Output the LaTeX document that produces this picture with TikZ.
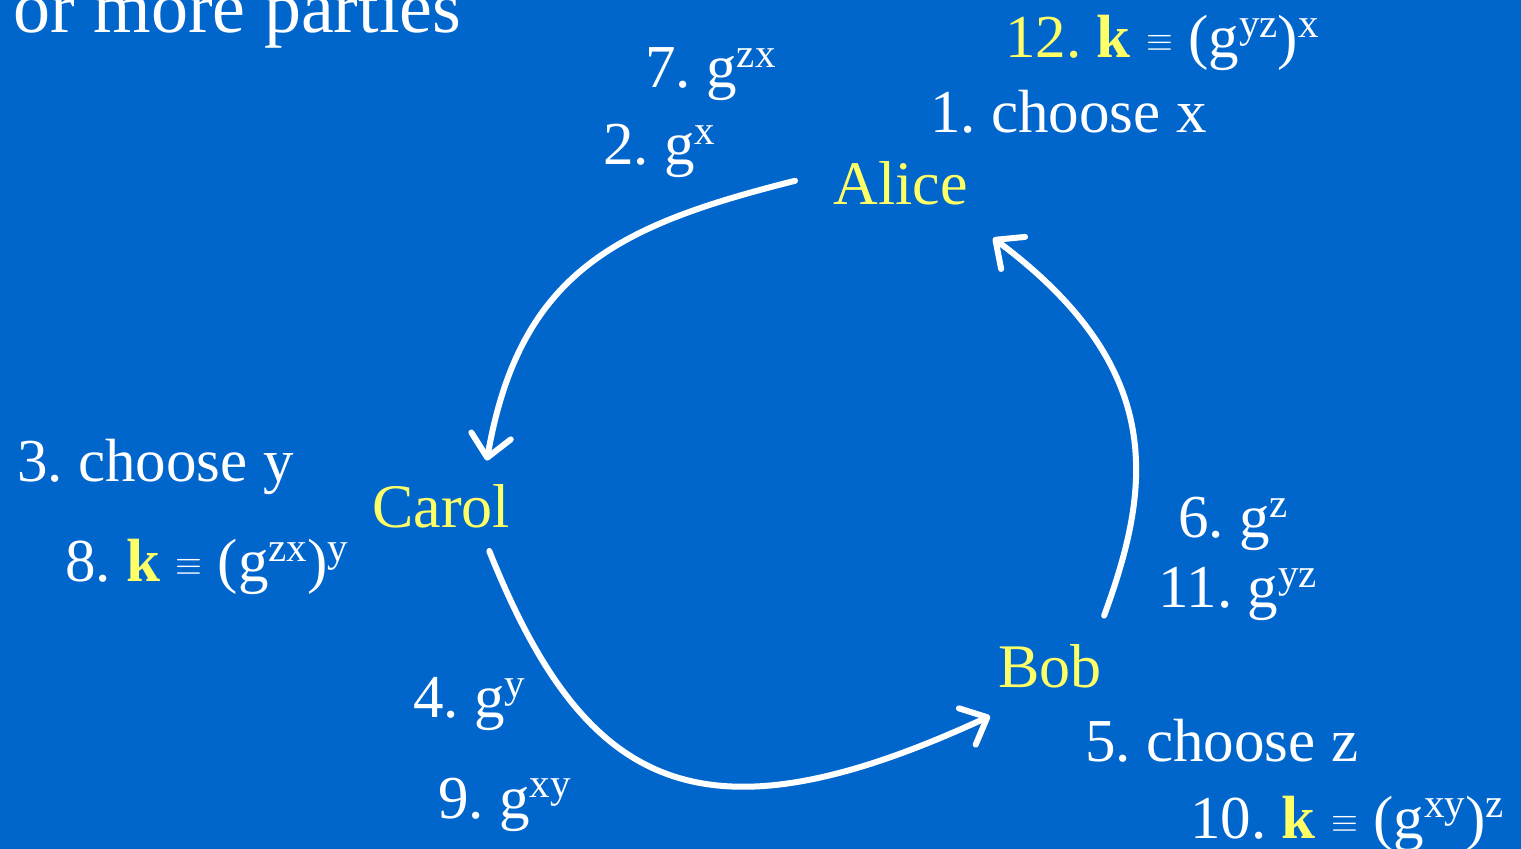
\documentclass[tikz,border=0pt]{standalone}
\usepackage{fontspec}
\setmainfont{Liberation Serif}
\usetikzlibrary{arrows.meta}
\frenchspacing
\definecolor{bgblue}{RGB}{0,102,204}
\definecolor{yel}{RGB}{255,255,102}
\newcommand\upx[1]{\raisebox{0.33em}{\fontsize{20.5}{20.5}\selectfont #1}}
\newcommand\eqv{{\fontsize{18}{18}\selectfont\raisebox{3pt}{$\equiv$}}}
\newcommand\kk{{\color{yel}\textbf{k}}}
\tikzset{
  lbl/.style={anchor=base west, inner sep=0pt, text=white, font=\fontsize{30.5}{36}\selectfont},
  who/.style={anchor=base west, inner sep=0pt, text=yel, font=\fontsize{31}{36}\selectfont},
  flow/.style={draw=white, line width=3pt, line cap=round,
    -{Straight Barb[length=11pt, width=20pt, line width=3pt, round]}}
}
\begin{document}
\begin{tikzpicture}[x=0.5pt, y=-0.5pt]
\fill[bgblue] (0,0) rectangle (1521,849);
\useasboundingbox (0,0) rectangle (1521,849);
\begin{scope}
\clip (0,0) rectangle (1521,849);
\node[lbl, font=\fontsize{37}{40}\selectfont] (title) at (13,33) {or more parties};
\end{scope}
\node[lbl] (k12) at (1005,58) {{\color{yel}12.} \kk{} \eqv{} (g\upx{yz})\upx{x}};
\node[lbl] (s7) at (645,88) {7. g\upx{zx}};
\node[lbl] (s1) at (930,133) {1. choose x};
\node[lbl] (s2) at (603,165) {2. g\upx{x}};
\node[who] (Alice) at (833,205) {Alice};
\node[lbl] (s3) at (17,482) {3. choose y};
\node[who] (Carol) at (372,528) {Carol};
\node[lbl] (k8) at (65,582) {8. \kk{} \eqv{} (g\upx{zx})\upx{y}};
\node[lbl] (s6) at (1178,538) {6. g\upx{z}};
\node[lbl] (s11) at (1158,608) {11. g\upx{yz}};
\node[who] (Bob) at (998,688) {Bob};
\node[lbl] (s4) at (413,718) {4. g\upx{y}};
\node[lbl] (s5) at (1085,762) {5. choose z};
\node[lbl] (s9) at (438,818) {9. g\upx{xy}};
\node[lbl] (k10) at (1190,838) {10. \kk{} \eqv{} (g\upx{xy})\upx{z}};

\draw[flow] ([xshift=-19pt,yshift=1.5pt]Alice.west)
  .. controls (620,225) and (520,270) .. ([xshift=22.75pt,yshift=12pt]Carol.north);
\draw[flow] ([xshift=24pt,yshift=-11pt]Carol.south)
  .. controls (585,790) and (700,850) .. ([xshift=-4pt,yshift=-13.5pt]Bob.south west);
\draw[flow] ([xshift=1pt,yshift=14.5pt]Bob.north east)
  .. controls (1150,490) and (1170,370) .. ([xshift=12.5pt,yshift=-16pt]Alice.south east);
\end{tikzpicture}
\end{document}
